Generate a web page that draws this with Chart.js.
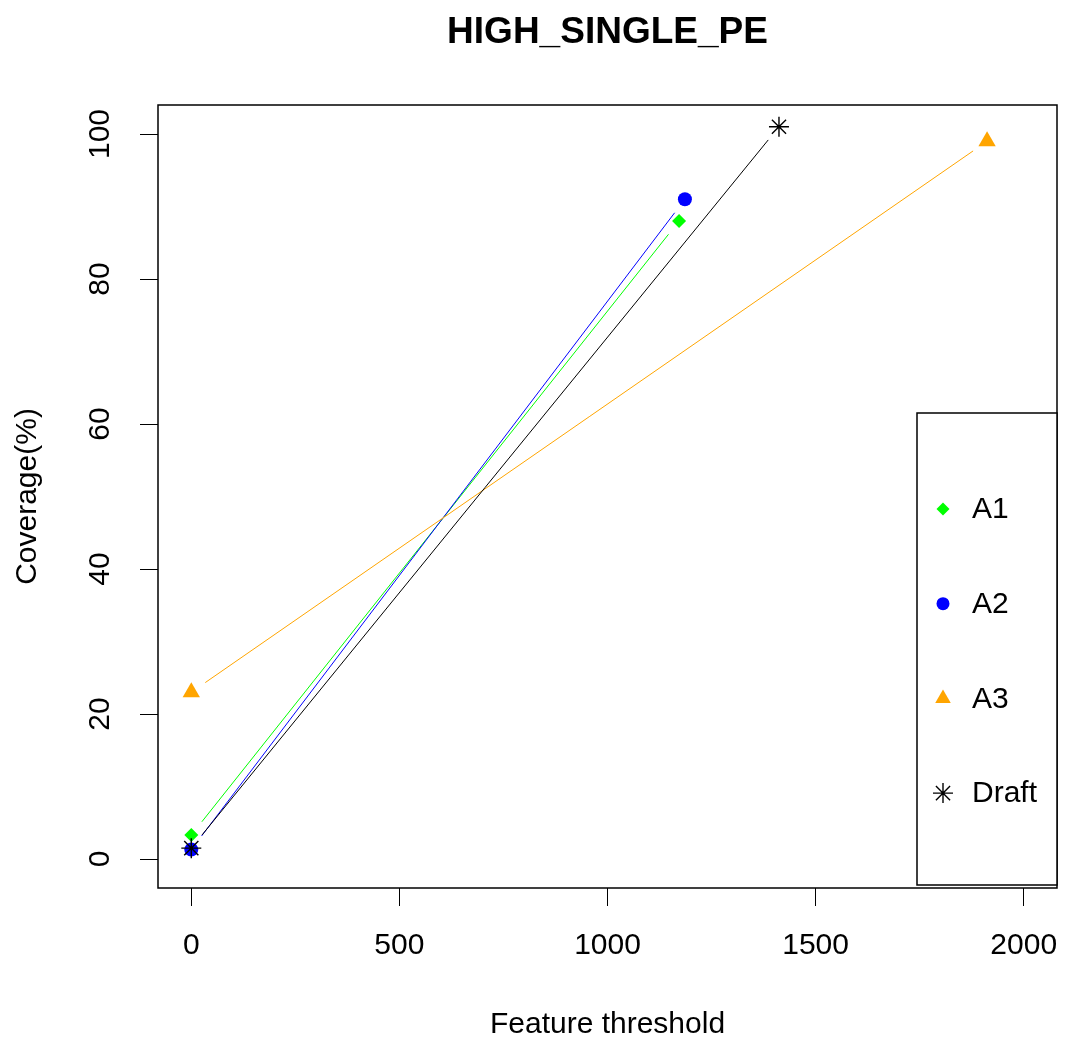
<!DOCTYPE html>
<html>
<head>
<meta charset="utf-8">
<title>HIGH_SINGLE_PE</title>
<script src="https://cdn.jsdelivr.net/npm/chart.js@4/dist/chart.umd.min.js"></script>
<style>
  html, body { margin: 0; padding: 0; background: #ffffff; }
  canvas { display: block; }
</style>
</head>
<body>
<canvas id="chart" width="1065" height="1045"></canvas>
<script>
// Coverage against feature threshold for each assembly
const chartTitle = 'HIGH_SINGLE_PE';
const seriesNames = ['A1', 'A2', 'A3', 'Draft'];
const a1X = [0, 1172];
const a1Y = [3.3, 88];
const a2X = [0, 1186];
const a2Y = [1.3, 91];
const a3X = [0, 1912];
const a3Y = [23, 99];
const draftX = [0, 1412];
const draftY = [1.5, 101];
const xTicks = [0, 500, 1000, 1500, 2000];
const yTicks = [0, 20, 40, 60, 80, 100];

const FONT = "'Liberation Sans', Arial, Helvetica, sans-serif";
const TEXT_SIZE = 30;
const GAP = 17; // blank space left between a segment end and its marker

function pairs(xs, ys) {
  return xs.map((x, i) => ({ x: x, y: ys[i] }));
}

const seriesStyle = [
  { color: '#00ff00', shape: 'rectRot', radius: 7, width: 0 },
  { color: '#0000ff', shape: 'circle', radius: 7, width: 0 },
  { color: '#ffa500', shape: 'triangle', radius: 10, width: 0 },
  { color: '#000000', shape: 'star', radius: 10, width: 1.4 }
];
const seriesData = [pairs(a1X, a1Y), pairs(a2X, a2Y), pairs(a3X, a3Y), pairs(draftX, draftY)];

const datasets = seriesNames.map((name, i) => ({
  label: name,
  data: seriesData[i],
  showLine: false,
  pointStyle: seriesStyle[i].shape,
  pointRadius: seriesStyle[i].radius,
  pointHoverRadius: seriesStyle[i].radius,
  pointBackgroundColor: seriesStyle[i].color,
  pointBorderColor: seriesStyle[i].color,
  pointBorderWidth: seriesStyle[i].width,
  borderColor: seriesStyle[i].color,
  backgroundColor: seriesStyle[i].color,
  order: seriesNames.length - i
}));

// Segments between consecutive points, stopped short of each marker
const gappedLines = {
  id: 'gappedLines',
  beforeDatasetsDraw(chart) {
    const ctx = chart.ctx;
    chart.data.datasets.forEach((ds, i) => {
      const pts = chart.getDatasetMeta(i).data;
      ctx.save();
      ctx.strokeStyle = ds.borderColor;
      ctx.lineWidth = 1;
      for (let k = 0; k < pts.length - 1; k++) {
        const a = pts[k], b = pts[k + 1];
        const dx = b.x - a.x, dy = b.y - a.y;
        const len = Math.hypot(dx, dy);
        if (len <= 2 * GAP) continue;
        const ux = dx / len, uy = dy / len;
        ctx.beginPath();
        ctx.moveTo(a.x + ux * GAP, a.y + uy * GAP);
        ctx.lineTo(b.x - ux * GAP, b.y - uy * GAP);
        ctx.stroke();
      }
      ctx.restore();
    });
  }
};

// Frame around the plotting region, tick labels and the legend box
const frameAndLegend = {
  id: 'frameAndLegend',
  afterDraw(chart) {
    const ctx = chart.ctx;
    const area = chart.chartArea;
    const xScale = chart.scales.x;
    const yScale = chart.scales.y;

    ctx.save();
    ctx.strokeStyle = '#000000';
    ctx.lineWidth = 1.5;
    ctx.strokeRect(area.left, area.top, area.right - area.left, area.bottom - area.top);

    ctx.fillStyle = '#000000';
    ctx.font = TEXT_SIZE + 'px ' + FONT;
    ctx.textAlign = 'center';
    ctx.textBaseline = 'middle';

    // x tick labels
    xTicks.forEach(v => {
      ctx.fillText(String(v), xScale.getPixelForValue(v), area.bottom + 58);
    });

    // y tick labels, written along the axis
    yTicks.forEach(v => {
      const py = yScale.getPixelForValue(v);
      ctx.save();
      ctx.translate(area.left - 57, py);
      ctx.rotate(-Math.PI / 2);
      ctx.fillText(String(v), 0, 0);
      ctx.restore();
    });

    // legend
    const boxLeft = area.right - 140;
    const boxTop = area.top + 308;
    const boxBottom = area.bottom - 3;
    ctx.fillStyle = '#ffffff';
    ctx.fillRect(boxLeft, boxTop, area.right - boxLeft, boxBottom - boxTop);
    ctx.strokeRect(boxLeft, boxTop, area.right - boxLeft, boxBottom - boxTop);

    const rowStart = area.top + 404;
    const rowStep = 94.7;
    chart.data.datasets.forEach((ds, i) => {
      const cy = rowStart + i * rowStep;
      const st = seriesStyle[i];
      ctx.save();
      ctx.fillStyle = st.color;
      ctx.strokeStyle = st.color;
      ctx.lineWidth = st.width || 1;
      const r = st.shape === 'triangle' ? 9 : (st.shape === 'star' ? 10 : 6.5);
      Chart.helpers.drawPoint(ctx, { pointStyle: st.shape, radius: r, borderWidth: st.width, rotation: 0 }, boxLeft + 26, cy);
      ctx.restore();
      ctx.fillStyle = '#000000';
      ctx.textAlign = 'left';
      ctx.textBaseline = 'middle';
      ctx.font = TEXT_SIZE + 'px ' + FONT;
      ctx.fillText(ds.label, boxLeft + 55, cy + 1);
    });
    ctx.restore();
  }
};

new Chart(document.getElementById('chart'), {
  type: 'scatter',
  data: { datasets: datasets },
  plugins: [gappedLines, frameAndLegend],
  options: {
    responsive: false,
    animation: false,
    events: [],
    layout: { autoPadding: false, padding: { top: 0, right: 8, bottom: 0, left: 0 } },
    plugins: {
      legend: { display: false },
      tooltip: { enabled: false },
      title: {
        display: true,
        fullSize: false,
        text: chartTitle,
        color: '#000000',
        font: { family: FONT, size: 37, weight: 'bold', lineHeight: 1.2 },
        padding: { top: 10.4, bottom: 50.2 }
      }
    },
    scales: {
      x: {
        type: 'linear',
        position: 'bottom',
        min: -80,
        max: 2080,
        afterFit(scale) { scale.height = 157; },
        afterBuildTicks(scale) { scale.ticks = xTicks.map(v => ({ value: v })); },
        border: { display: false },
        grid: {
          drawOnChartArea: false,
          drawTicks: true,
          tickLength: 18,
          color: '#000000',
          lineWidth: 1
        },
        ticks: { display: false },
        title: {
          display: true,
          text: 'Feature threshold',
          color: '#000000',
          font: { family: FONT, size: TEXT_SIZE },
          padding: { top: 0, bottom: 2 }
        }
      },
      y: {
        type: 'linear',
        position: 'left',
        min: -4,
        max: 104,
        afterFit(scale) { scale.width = 158; },
        afterBuildTicks(scale) { scale.ticks = yTicks.map(v => ({ value: v })); },
        border: { display: false },
        grid: {
          drawOnChartArea: false,
          drawTicks: true,
          tickLength: 18,
          color: '#000000',
          lineWidth: 1
        },
        ticks: { display: false },
        title: {
          display: true,
          text: 'Coverage(%)',
          color: '#000000',
          font: { family: FONT, size: TEXT_SIZE },
          padding: { top: 10, bottom: 0 }
        }
      }
    }
  }
});
</script>
</body>
</html>
